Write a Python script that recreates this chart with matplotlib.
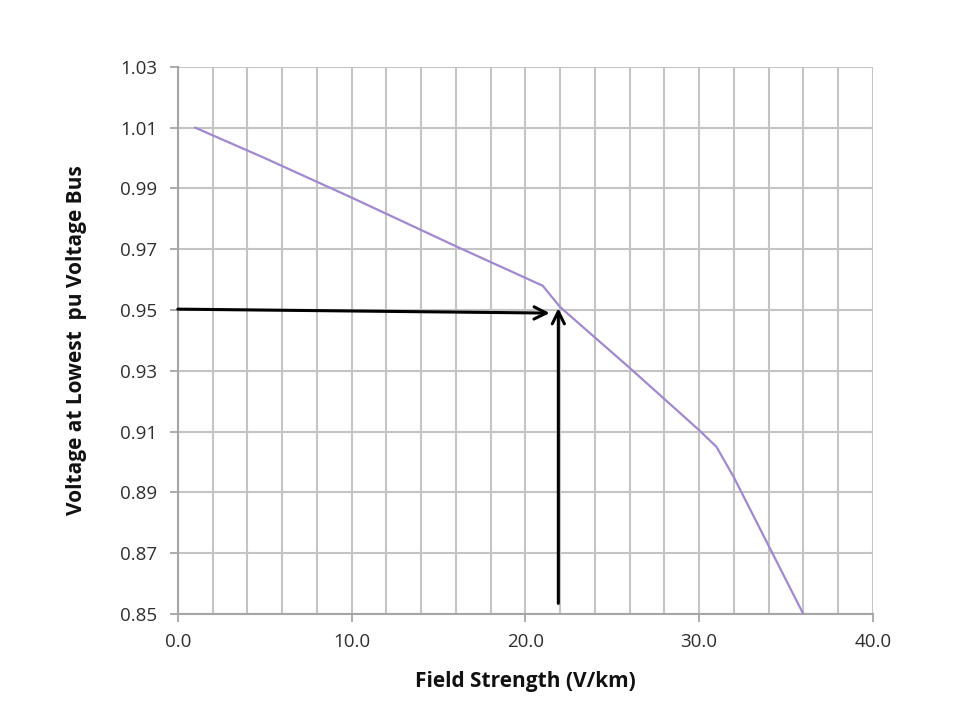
import matplotlib
matplotlib.use("Agg")
import matplotlib.pyplot as plt
import numpy as np

# Data
field_strength = [1, 5, 10, 16, 21, 22, 26, 30, 31, 32, 36]
voltage = [1.010, 1.000, 0.987, 0.971, 0.958, 0.951, 0.931, 0.9105, 0.905, 0.895, 0.850]

x_ticks = [0, 10, 20, 30, 40]
x_tick_labels = ["0.0", "10.0", "20.0", "30.0", "40.0"]
y_ticks = [0.85, 0.87, 0.89, 0.91, 0.93, 0.95, 0.97, 0.99, 1.01, 1.03]
y_tick_labels = ["0.85", "0.87", "0.89", "0.91", "0.93", "0.95", "0.97", "0.99", "1.01", "1.03"]

# Annotation arrows (threshold 0.95 pu)
h_arrow = [(0.0, 0.9503), (21.4, 0.949)]
v_arrow = [(21.9, 0.8535), (21.9, 0.9506)]

plt.rcParams['font.family'] = ['Open Sans', 'DejaVu Sans']

fig = plt.figure(figsize=(9.56, 7.19), dpi=100)
ax = fig.add_axes([0.186, 0.146, 0.727, 0.761])

ax.plot(field_strength, voltage, color='#a088d2', lw=1.6, zorder=3)

ax.set_xlim(0, 40)
ax.set_ylim(0.85, 1.03)
ax.set_xticks(x_ticks)
ax.set_xticklabels(x_tick_labels)
ax.set_xticks(np.arange(0, 41, 2), minor=True)
ax.set_yticks(y_ticks)
ax.set_yticklabels(y_tick_labels)

ax.grid(True, which='both', axis='x', color='#c4c4c4', lw=1.5, zorder=0)
ax.grid(True, which='major', axis='y', color='#c4c4c4', lw=1.5, zorder=0)
ax.set_axisbelow(True)

for s in ['top', 'right']:
    ax.spines[s].set_visible(False)
for s in ['left', 'bottom']:
    ax.spines[s].set_color('#a6a6a6')
    ax.spines[s].set_linewidth(1.5)

ax.tick_params(axis='both', which='major', direction='out', length=6, width=1.3,
               color='#a6a6a6', labelsize=13.5, labelcolor='#2e2e2e')
ax.tick_params(axis='y', which='major', pad=9)
ax.tick_params(axis='x', which='major', pad=8)
ax.tick_params(axis='x', which='minor', length=0)

ax.set_xlabel("Field Strength (V/km)", fontsize=15, fontweight='bold', labelpad=14, color='#111111')
ax.set_ylabel("Voltage at Lowest  pu Voltage Bus", fontsize=15, fontweight='bold', labelpad=24, color='#111111')

arrow_props = dict(arrowstyle='->', color='black', lw=2.2, mutation_scale=22, shrinkA=0, shrinkB=0)
ax.annotate("", xy=h_arrow[1], xytext=h_arrow[0], arrowprops=arrow_props, zorder=4)
ax.annotate("", xy=v_arrow[1], xytext=v_arrow[0], arrowprops=arrow_props, zorder=4)

fig.savefig("out.png", dpi=100, facecolor='white')
